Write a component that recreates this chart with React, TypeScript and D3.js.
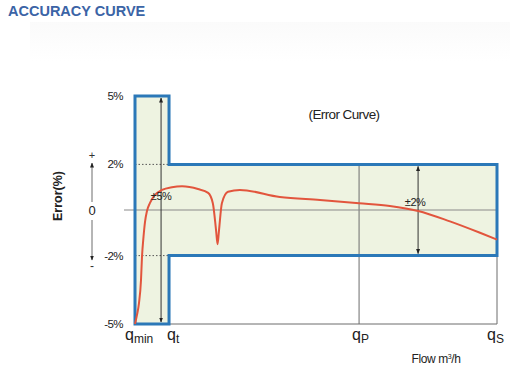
import React from 'react';
import * as d3 from 'd3';

// Error-curve values (flow in relative units 0..100, error in %)
const curveFlow = [0, 0.55, 1.1, 1.66, 1.93, 2.35, 2.76, 3.31, 4.14, 5.5, 7.46, 10.2, 13, 17.4, 20.2, 21.5, 22.4, 22.8, 23.2, 24, 25.7, 29, 40, 51.1, 61.9, 70.4, 78.2, 87, 95.3, 100];
const curveError = [-5, -4.6, -4.08, -3.07, -2.06, -1.18, -0.53, -0.04, 0.31, 0.66, 0.88, 1.0, 1.04, 0.92, 0.75, 0.3, -0.9, -1.5, -0.9, 0.3, 0.8, 0.88, 0.57, 0.44, 0.3, 0.18, -0.04, -0.5, -1.0, -1.3];

const flowNames = ['min', 't', 'P', 'S'];
const flowPos = [0, 9.4, 61.9, 100];
const labelDx = [-10, -2, -7, -10];

const errorTicks = [5, 2, -2, -5];
const lowZoneLimit = 5;
const highZoneLimit = 2;
const lowArrowFlow = 7.2;
const highArrowFlow = 78.2;

const W = 517;
const H = 373;
const FONT = 'Liberation Sans, Arial, Helvetica, sans-serif';

export default function App() {
  const x = d3.scaleLinear().domain([0, 100]).range([135, 497]);
  const y = d3.scaleLinear().domain([-5, 5]).range([324, 96]);

  const qmin = flowPos[0];
  const qt = flowPos[1];
  const qp = flowPos[2];
  const qs = flowPos[3];

  const envelope = d3.line<[number, number]>().x(d => x(d[0])).y(d => y(d[1]))([
    [qmin, lowZoneLimit], [qt, lowZoneLimit], [qt, highZoneLimit], [qs, highZoneLimit],
    [qs, -highZoneLimit], [qt, -highZoneLimit], [qt, -lowZoneLimit], [qmin, -lowZoneLimit],
  ]) + 'Z';

  const curve = d3.line<number>()
    .x((_, i) => x(curveFlow[i]))
    .y(d => y(d))
    .curve(d3.curveMonotoneX)(curveError);

  const grey = '#6d6d6d';

  return (
    <svg width={W} height={H} style={{ position: 'fixed', left: 0, top: 0, background: '#fff' }} fontFamily={FONT}>
      <defs>
        <marker id="ah" viewBox="0 0 10 10" refX="9" refY="5" markerWidth="5" markerHeight="6" orient="auto-start-reverse">
          <path d="M0,1 L10,5 L0,9 Z" fill="#222" />
        </marker>
        <linearGradient id="haze" x1="0" y1="0" x2="0" y2="1">
          <stop offset="0" stopColor="#f6f6f6" />
          <stop offset="1" stopColor="#fff" />
        </linearGradient>
      </defs>

      <rect x={30} y={22} width={480} height={40} fill="url(#haze)" opacity={0.5} />
      <text x={8} y={16} fontSize={14.5} fontWeight="bold" fill="#3b64a6">ACCURACY CURVE</text>

      {/* envelope */}
      <path d={envelope} fill="#eef3e1" stroke="none" />

      {/* bottom axis and guide lines */}
      <line x1={x(qt)} x2={x(qs)} y1={y(-5)} y2={y(-5)} stroke={grey} strokeWidth={1} />
      <line x1={x(qp)} x2={x(qp)} y1={y(highZoneLimit)} y2={y(-5)} stroke={grey} strokeWidth={1} />
      <line x1={x(qs)} x2={x(qs)} y1={y(-highZoneLimit)} y2={y(-5)} stroke={grey} strokeWidth={1} />
      <line x1={124} x2={x(qs)} y1={y(0)} y2={y(0)} stroke="#8a8a8a" strokeWidth={1.2} />
      {[highZoneLimit, -highZoneLimit].map(v => (
        <line key={v} x1={x(qmin)} x2={x(qt)} y1={y(v)} y2={y(v)} stroke="#555" strokeWidth={1} strokeDasharray="1.5,2" />
      ))}

      {/* tolerance arrows */}
      <line x1={x(lowArrowFlow)} x2={x(lowArrowFlow)} y1={y(lowZoneLimit) + 2} y2={y(-lowZoneLimit) - 2}
        stroke="#333" strokeWidth={1} markerStart="url(#ah)" markerEnd="url(#ah)" />
      <line x1={x(highArrowFlow)} x2={x(highArrowFlow)} y1={y(highZoneLimit) + 2} y2={y(-highZoneLimit) - 2}
        stroke="#333" strokeWidth={1} markerStart="url(#ah)" markerEnd="url(#ah)" />

      <path d={envelope} fill="none" stroke="#2b78b8" strokeWidth={3} />

      {/* error curve */}
      <path d={curve ?? ''} fill="none" stroke="#e2553d" strokeWidth={2} />

      <text x={x(lowArrowFlow)} y={200} fontSize={11} textAnchor="middle" fill="#222" letterSpacing={-0.5}>±5%</text>
      <text x={x(highArrowFlow) - 3} y={206} fontSize={11} textAnchor="middle" fill="#222" letterSpacing={-0.5}>±2%</text>
      <text x={344} y={119} fontSize={13.5} textAnchor="middle" fill="#222" letterSpacing={-0.6}>(Error Curve)</text>

      {/* error ticks */}
      {errorTicks.map(v => (
        <text key={v} x={123} y={y(v) + 4} fontSize={11.5} textAnchor="end" fill="#222" letterSpacing={-0.6}>{v}%</text>
      ))}

      {/* error direction indicator */}
      <text x={92} y={159} fontSize={11} textAnchor="middle" fill="#333">+</text>
      <line x1={92} x2={92} y1={202} y2={163} stroke={grey} strokeWidth={1} markerEnd="url(#ah)" />
      <text x={92} y={y(0) + 5} fontSize={13} textAnchor="middle" fill="#222">0</text>
      <line x1={92} x2={92} y1={220} y2={260} stroke={grey} strokeWidth={1} markerEnd="url(#ah)" />
      <text x={92} y={270} fontSize={12} textAnchor="middle" fill="#333">-</text>
      <text transform={`translate(62,${y(0) - 14}) rotate(-90)`} fontSize={12.5} fontWeight="bold" textAnchor="middle" fill="#222">Error(%)</text>

      {/* flow labels */}
      {flowPos.map((v, i) => (
        <text key={flowNames[i]} x={x(v) + labelDx[i]} y={340} fontSize={16} fill="#222">
          q<tspan fontSize={12} dy={3}>{flowNames[i]}</tspan>
        </text>
      ))}
      <text x={436} y={363} fontSize={12} textAnchor="middle" fill="#222" letterSpacing={-0.4}>
        Flow m<tspan fontSize={7} dy={-4}>3</tspan><tspan dy={4}>/h</tspan>
      </text>
    </svg>
  );
}
